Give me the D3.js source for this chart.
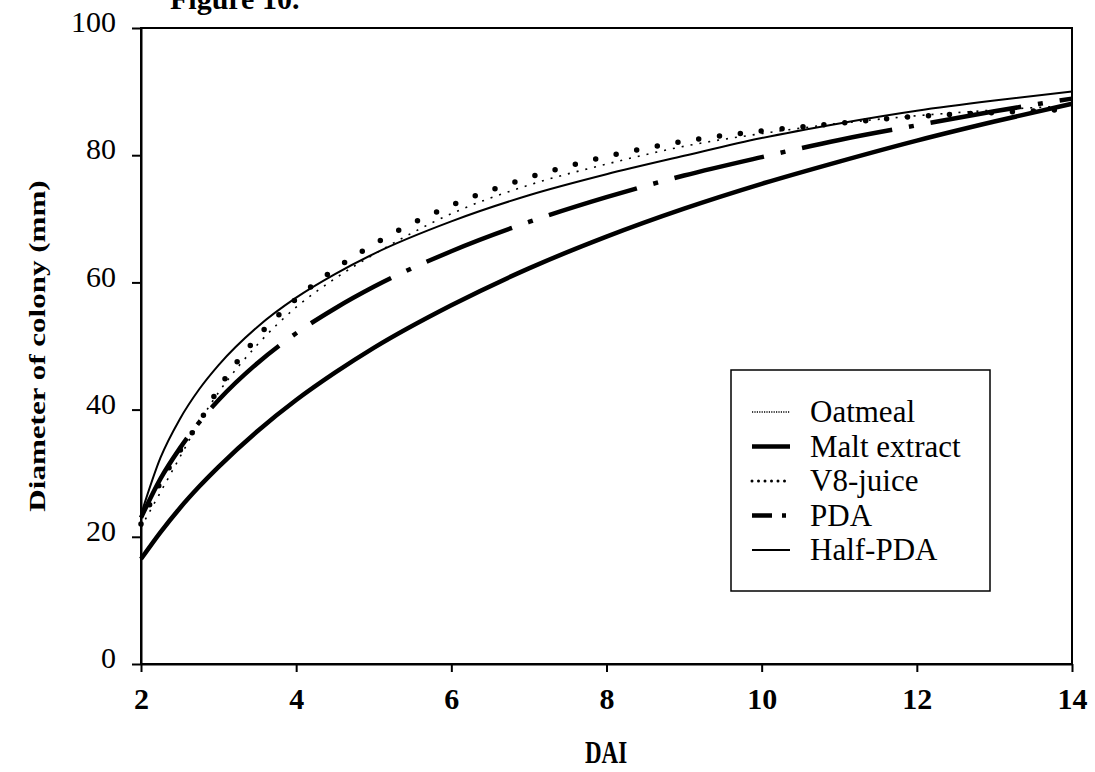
<!DOCTYPE html>
<html>
<head>
<meta charset="utf-8">
<script src="https://cdn.jsdelivr.net/npm/d3@7"></script>
<style>
  body { margin: 0; background: #fff; }
  svg text { font-family: "Liberation Serif", "Times New Roman", serif; fill: #000; }
</style>
</head>
<body>
<div class="growth-plot"></div>
<script>
// days after inoculation (x) and colony diameters (mm)
const dai = [2, 2.25, 2.5, 2.75, 3, 3.5, 4, 4.5, 5, 6, 7, 8, 9, 10, 11, 12, 13, 14];
const oatmeal = [21.5, 27.0, 32.5, 38.0, 42.7, 50.2, 56.1, 60.6, 64.4, 70.8, 75.3, 78.6, 81.4, 83.4, 85.0, 86.2, 87.1, 87.8];
const maltExtract = [16.5, 20.7, 24.5, 27.9, 31.0, 36.6, 41.5, 45.8, 49.7, 56.4, 62.2, 67.2, 71.6, 75.5, 79.0, 82.3, 85.3, 88.1];
const v8Juice = [22.0, 28.5, 33.5, 38.0, 43.3, 51.4, 57.4, 62.1, 66.0, 72.1, 76.5, 79.8, 82.2, 83.8, 85.0, 86.1, 86.7, 87.2];
const pda = [23.0, 29.1, 33.9, 38.0, 41.5, 47.3, 52.0, 55.9, 59.3, 64.9, 69.5, 73.4, 76.8, 79.7, 82.4, 84.7, 86.9, 88.9];
const halfPda = [23.5, 32.4, 38.5, 43.2, 47.0, 53.0, 57.6, 61.3, 64.5, 69.6, 73.7, 77.0, 79.9, 82.7, 85.0, 87.0, 88.6, 90.0];

const xTicks = [2, 4, 6, 8, 10, 12, 14];
const yTicks = [0, 20, 40, 60, 80, 100];
const seriesNames = ["Oatmeal", "Malt extract", "V8-juice", "PDA", "Half-PDA"];
const seriesValues = [oatmeal, maltExtract, v8Juice, pda, halfPda];

// line looks, one per series (plot / legend swatch)
const looks = [
    {w: 1.6, dash: "2,7", cap: "butt", legW: 1.4, legDash: "1.2,1.2"},
    {w: 4.5, dash: null, cap: "butt", legW: 4.5, legDash: null},
    {w: 5.5, dash: "0,21", cap: "round", legW: 3, legDash: "0,6.5"},
    {w: 4.5, dash: "92,17,5,17", cap: "butt", legW: 4.5, legDash: "20,10,4,10"},
    {w: 2, dash: null, cap: "butt", legW: 2, legDash: null}
];

const w = 1095;
const h = 772;
const svg = d3.select('.growth-plot')
    .append('svg')
    .attr('width', w)
    .attr('height', h);

const x = d3.scaleLinear().domain([2, 14]).range([141, 1072]);
const y = d3.scaleLinear().domain([0, 100]).range([664, 28]);

// title, cut off at the top like the scan
svg.append("text")
    .attr("x", 170).attr("y", 9)
    .attr("font-size", 30).attr("font-weight", "bold")
    .text("Figure 10.");

// frame
svg.append("rect")
    .attr("x", x(2)).attr("y", y(100))
    .attr("width", x(14) - x(2)).attr("height", y(0) - y(100))
    .attr("fill", "none").attr("stroke", "#000").attr("stroke-width", 2);

//axes
const yAxis = svg.append("g")
    .attr("transform", `translate(${x(2)},0)`)
    .call(d3.axisLeft(y).tickValues(yTicks).tickSize(9).tickSizeOuter(0).tickPadding(16));
const xAxis = svg.append("g")
    .attr("transform", `translate(0,${y(0)})`)
    .call(d3.axisBottom(x).tickValues(xTicks).tickSize(8).tickSizeOuter(0).tickPadding(16));

[yAxis, xAxis].forEach(function(g) {
    g.select(".domain").attr("stroke-width", 2);
    g.selectAll(".tick line").attr("stroke-width", 2);
    g.selectAll(".tick text")
        .attr("font-family", '"Liberation Serif", "Times New Roman", serif')
        .attr("font-size", 30);
});
yAxis.selectAll(".tick text").attr("dy", "0.12em");
xAxis.selectAll(".tick text").attr("font-weight", "bold");

// axis titles
svg.append("text")
    .attr("transform", "translate(606,763) scale(1,1.4)")
    .attr("text-anchor", "middle")
    .attr("font-size", 23).attr("font-weight", "bold")
    .text("DAI");

svg.append("text")
    .attr("transform", "translate(45,346) rotate(-90) scale(1.35,1)")
    .attr("text-anchor", "middle")
    .attr("font-size", 23).attr("font-weight", "bold")
    .text("Diameter of colony (mm)");

// curves
const line = d3.line()
    .x(d => x(d[0]))
    .y(d => y(d[1]))
    .curve(d3.curveMonotoneX);

seriesValues.forEach(function(vals, i) {
    svg.append("path")
        .datum(dai.map((d, j) => [d, vals[j]]))
        .attr("d", line)
        .attr("fill", "none")
        .attr("stroke", "#000")
        .attr("stroke-width", looks[i].w)
        .attr("stroke-linecap", looks[i].cap)
        .attr("stroke-dasharray", looks[i].dash);
});

// legend
const legend = svg.append("g");
legend.append("rect")
    .attr("x", 731).attr("y", 370)
    .attr("width", 259).attr("height", 221)
    .attr("fill", "#fff").attr("stroke", "#000").attr("stroke-width", 1.5);

seriesNames.forEach(function(name, i) {
    const ly = 412 + i * 34.5;
    legend.append("line")
        .attr("x1", 752).attr("x2", 790)
        .attr("y1", ly).attr("y2", ly)
        .attr("stroke", "#000")
        .attr("stroke-width", looks[i].legW)
        .attr("stroke-linecap", looks[i].cap)
        .attr("stroke-dasharray", looks[i].legDash);
    legend.append("text")
        .attr("x", 810).attr("y", ly)
        .attr("dy", "0.33em")
        .attr("font-size", 31)
        .text(name);
});
</script>
</body>
</html>
